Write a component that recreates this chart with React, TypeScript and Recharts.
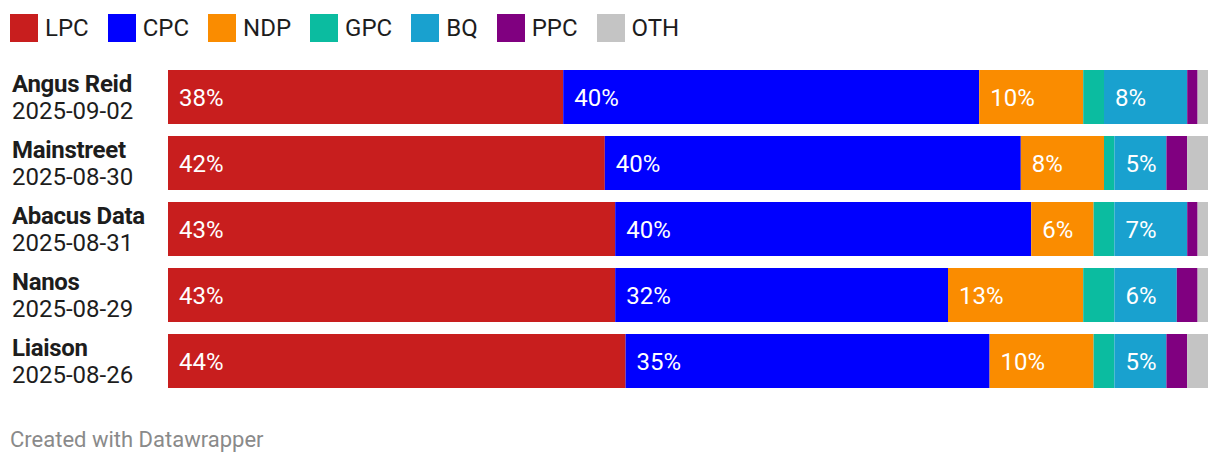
import React from 'react';
import { BarChart, Bar, XAxis, YAxis, LabelList } from 'recharts';

const pollsters = ['Angus Reid', 'Mainstreet', 'Abacus Data', 'Nanos', 'Liaison'];
const dates = ['2025-09-02', '2025-08-30', '2025-08-31', '2025-08-29', '2025-08-26'];

const lpc = [38, 42, 43, 43, 44];
const cpc = [40, 40, 40, 32, 35];
const ndp = [10, 8, 6, 13, 10];
const gpc = [2, 1, 2, 3, 2];
const bq = [8, 5, 7, 6, 5];
const ppc = [1, 2, 1, 2, 2];
const oth = [1, 2, 1, 1, 2];

const parties = [
    { key: 'LPC', values: lpc, color: '#c81e1e' },
    { key: 'CPC', values: cpc, color: '#0000ff' },
    { key: 'NDP', values: ndp, color: '#fa8c00' },
    { key: 'GPC', values: gpc, color: '#0bbca0' },
    { key: 'BQ', values: bq, color: '#19a1cf' },
    { key: 'PPC', values: ppc, color: '#800080' },
    { key: 'OTH', values: oth, color: '#c4c4c4' },
];

const data = pollsters.map((name, i) => {
    const row: any = { name, date: dates[i] };
    parties.forEach((p) => {
        row[p.key] = p.values[i];
    });
    return row;
});

const FONT = 'Roboto, sans-serif';

// pollster name + date on the left
function PollTick(props: any) {
    const { y, payload, index } = props;
    return (
        <g>
            <text x={12} y={y - 13} dominantBaseline="central" fontSize={24} fontWeight={700} fill="#1d1d1d" fontFamily={FONT} letterSpacing={-0.3}>
                {payload.value}
            </text>
            <text x={12} y={y + 14} dominantBaseline="central" fontSize={24} fill="#1d1d1d" fontFamily={FONT}>
                {dates[index]}
            </text>
        </g>
    );
}

function ValueLabel(props: any) {
    const { x, y, height, value } = props;
    if (value < 5) return null;
    return (
        <text x={x + 11} y={y + height / 2 + 1} dominantBaseline="central" fontSize={24} fill="#ffffff" fontFamily={FONT}>
            {value}%
        </text>
    );
}

export default function App() {
    return (
        <div style={{ position: 'absolute', left: 0, top: 0, width: 1220, height: 466, background: '#fff', fontFamily: FONT }}>
            <div style={{ position: 'absolute', left: 10, top: 14, display: 'flex', alignItems: 'center', gap: 19 }}>
                {parties.map((p) => (
                    <div key={p.key} style={{ display: 'flex', alignItems: 'center', gap: 7 }}>
                        <div style={{ width: 28, height: 28, background: p.color }} />
                        <span style={{ fontSize: 24, lineHeight: '28px', color: '#1d1d1d' }}>{p.key}</span>
                    </div>
                ))}
            </div>
            <BarChart
                width={1220}
                height={466}
                data={data}
                layout="vertical"
                barCategoryGap={6}
                margin={{ top: 64, right: 12, bottom: 72, left: 0 }}
                style={{ position: 'absolute', left: 0, top: 0 }}
            >
                <XAxis type="number" domain={[0, 100]} hide />
                <YAxis
                    type="category"
                    dataKey="name"
                    width={168}
                    axisLine={false}
                    tickLine={false}
                    tick={<PollTick />}
                    interval={0}
                />
                {parties.map((p) => (
                    <Bar key={p.key} dataKey={p.key} stackId="a" fill={p.color} isAnimationActive={false}>
                        <LabelList dataKey={p.key} content={<ValueLabel />} />
                    </Bar>
                ))}
            </BarChart>
            <div style={{ position: 'absolute', left: 10, top: 427, fontSize: 22, lineHeight: '26px', color: '#8a8a8a' }}>
                Created with Datawrapper
            </div>
        </div>
    );
}
